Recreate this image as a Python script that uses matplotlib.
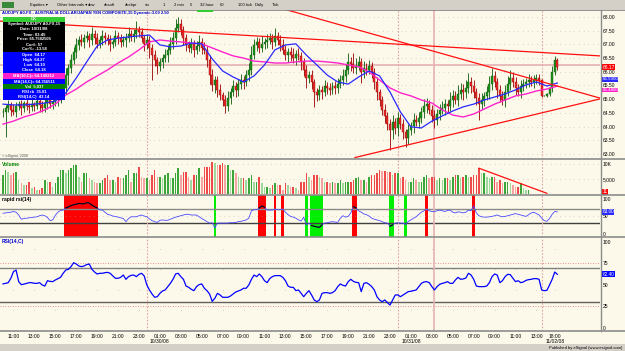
import numpy as np
import matplotlib.pyplot as plt
from matplotlib.patches import Rectangle
from matplotlib.lines import Line2D

plt.rcParams['font.family'] = ['Liberation Sans', 'DejaVu Sans']

# ---- 15 min bars, AUDJPY, 10/29 10:00 -> 11/02 ----
closes = [
    64.53, 64.68, 64.79, 64.61, 64.53, 64.75, 64.82, 64.68, 64.86, 64.75,
    64.72, 64.82, 64.75, 64.93, 64.79, 64.68, 64.86, 64.97, 64.82, 64.90,
    64.97, 65.04, 65.15, 65.41, 65.88, 66.14, 66.43, 66.72, 66.98, 67.16,
    67.09, 67.23, 67.31, 67.16, 67.38, 67.23, 67.02, 67.16, 67.31, 67.23,
    67.16, 67.02, 67.09, 67.31, 67.23, 67.09, 67.16, 67.23, 67.38, 67.31,
    67.38, 67.53, 67.45, 67.23, 67.02, 67.16, 66.87, 66.61, 66.43, 66.21,
    66.36, 66.50, 66.61, 66.80, 67.02, 67.23, 67.60, 67.74, 67.53, 67.23,
    66.98, 66.87, 67.02, 66.80, 66.94, 67.09, 66.87, 66.80, 66.43, 65.88,
    65.52, 65.70, 65.34, 65.15, 64.97, 64.75, 65.04, 65.26, 65.48, 65.34,
    65.56, 65.70, 65.63, 65.88, 66.07, 66.61, 66.98, 67.09, 66.87, 67.02,
    67.09, 67.16, 67.23, 67.09, 67.31, 67.16, 66.98, 66.80, 66.61, 66.72,
    66.61, 66.50, 66.65, 66.58, 66.36, 66.07, 65.77, 65.88, 65.63, 65.26,
    65.15, 65.34, 65.26, 65.48, 65.41, 65.34, 65.48, 65.41, 65.56, 65.70,
    65.85, 66.07, 66.36, 66.29, 66.14, 66.21, 66.36, 65.99, 66.14, 66.07,
    66.21, 65.99, 65.63, 65.26, 64.97, 64.61, 64.39, 64.10, 63.88, 64.17,
    63.95, 64.31, 64.10, 63.80, 63.58, 63.88, 64.02, 64.24, 64.17, 64.31,
    64.53, 64.75, 64.82, 64.61, 64.39, 64.24, 64.46, 64.61, 64.68, 64.82,
    64.75, 64.97, 65.12, 64.97, 65.19, 65.34, 65.26, 65.41, 65.63, 65.48,
    65.26, 65.04, 64.82, 64.97, 65.12, 65.26, 65.56, 65.85, 65.63, 65.34,
    65.12, 64.97, 65.26, 65.56, 65.77, 65.63, 65.41, 65.26, 65.48, 65.56,
    65.63, 65.70, 65.63, 65.70, 65.77, 65.70, 65.12, 65.12, 65.19, 65.41,
    65.99, 66.43, 66.17]

# wick lengths beyond the body, in pips
wick_up = [
    14, 11, 18, 9, 22, 13, 11, 16, 9, 14,
    11, 18, 9, 14, 11, 13, 22, 9, 14, 11,
    16, 11, 14, 18, 25, 14, 22, 18, 27, 16,
    22, 14, 18, 11, 25, 14, 18, 13, 22, 16,
    14, 18, 11, 22, 14, 16, 13, 20, 25, 14,
    18, 32, 14, 16, 11, 22, 14, 13, 18, 11,
    14, 16, 22, 18, 25, 22, 32, 26, 18, 14,
    16, 13, 22, 14, 18, 25, 16, 20, 14, 18,
    22, 16, 14, 20, 13, 18, 25, 16, 22, 14,
    18, 22, 14, 18, 25, 32, 22, 18, 16, 27,
    14, 22, 18, 16, 29, 14, 18, 22, 16, 14,
    18, 25, 14, 22, 16, 13, 18, 14, 20, 11,
    14, 18, 13, 22, 16, 18, 14, 20, 22, 18,
    25, 22, 32, 18, 40, 29, 22, 16, 25, 18,
    22, 16, 14, 18, 13, 16, 22, 14, 18, 25,
    16, 22, 14, 18, 13, 22, 16, 25, 18, 22,
    18, 25, 22, 14, 16, 20, 18, 22, 25, 18,
    16, 29, 22, 18, 32, 25, 22, 29, 33, 18,
    22, 14, 18, 25, 16, 22, 29, 27, 18, 14,
    16, 18, 25, 29, 30, 22, 18, 14, 22, 18,
    16, 22, 14, 18, 16, 14, 3, 2, 3, 5,
    22, 13, 7]
wick_dn = [
    18, 90, 14, 22, 11, 18, 14, 25, 16, 13,
    22, 14, 18, 11, 25, 16, 13, 22, 14, 18,
    14, 22, 18, 16, 22, 36, 18, 14, 22, 18,
    16, 22, 14, 25, 18, 22, 16, 14, 18, 22,
    18, 25, 14, 16, 22, 18, 14, 25, 16, 18,
    22, 14, 18, 16, 25, 18, 36, 90, 22, 29,
    18, 22, 14, 25, 16, 18, 22, 14, 18, 25,
    22, 16, 18, 25, 14, 18, 22, 16, 25, 32,
    22, 29, 25, 18, 22, 25, 18, 22, 16, 25,
    22, 18, 25, 16, 22, 18, 14, 22, 18, 16,
    18, 22, 16, 25, 14, 18, 22, 16, 18, 25,
    22, 18, 25, 16, 29, 22, 36, 18, 25, 55,
    22, 18, 25, 16, 22, 18, 14, 22, 18, 16,
    18, 22, 16, 25, 18, 22, 16, 40, 22, 18,
    16, 22, 25, 29, 22, 18, 25, 22, 73, 32,
    22, 29, 18, 25, 32, 22, 18, 25, 16, 22,
    18, 22, 25, 16, 22, 29, 18, 22, 16, 25,
    22, 18, 25, 16, 22, 18, 29, 22, 18, 25,
    22, 25, 58, 18, 22, 16, 25, 22, 18, 29,
    22, 18, 25, 16, 22, 18, 25, 16, 22, 18,
    16, 18, 14, 22, 16, 18, 3, 2, 4, 6,
    14, 11, 9]

volume = [
    6300, 8000, 7400, 6300, 6900, 7400, 4700, 3600, 3000, 3000,
    4100, 1900, 2400, 1300, 1300, 1900, 4700, 4100, 4100, 2400,
    3600, 5800, 8000, 8000, 6900, 8000, 8600, 9700, 9700, 5800,
    4100, 6900, 6900, 5200, 4700, 4100, 3600, 3600, 4700, 5200,
    6300, 4700, 4700, 4100, 5800, 5200, 5200, 6300, 8000, 4100,
    6900, 6900, 9100, 5800, 5200, 5200, 4700, 6300, 8000, 5800,
    5800, 5200, 6300, 6900, 5200, 5200, 6900, 8600, 6300, 7400,
    7400, 5800, 4700, 6300, 6300, 8600, 5800, 9100, 9100, 9100,
    10800, 10200, 9700, 9700, 10200, 9700, 9700, 8000, 8000, 6900,
    5800, 5200, 5200, 4700, 5200, 6300, 4100, 4100, 5800, 3600,
    2400, 2400, 1900, 3000, 3600, 3000, 3000, 1300, 3600, 3000,
    2400, 2400, 1900, 1300, 4100, 4100, 6900, 5800, 4700, 6300,
    6300, 5800, 5200, 4100, 4100, 3600, 4100, 3600, 3600, 4700,
    3600, 4100, 4100, 4100, 4700, 5200, 5800, 4700, 4700, 4100,
    5800, 6300, 6300, 6900, 8000, 7800, 7800, 7400, 7400, 6300,
    6900, 6900, 5200, 5800, 4700, 4100, 4100, 5200, 4700, 4100,
    4100, 5800, 6300, 5200, 5800, 5800, 4700, 5200, 4700, 5200,
    5200, 4700, 5800, 6300, 6300, 5200, 5800, 6300, 5800, 5800,
    6300, 6300, 8600, 6900, 6900, 5800, 5200, 5800, 5800, 4100,
    4700, 3600, 4100, 4100, 3600, 3000, 2400, 2400, 3600, 1900,
    1300, 1300, 150, 120, 100, 80, 8, 12, 10, 15,
    20, 14, 11]

rapid_rsi = [
    59, 60, 61, 62, 64, 62, 54, 42, 44, 45,
    46, 47, 48, 49, 52, 54, 52, 47, 38, 40,
    53, 62, 67, 68, 74, 77, 81, 83, 85, 87,
    86, 86, 89, 88, 82, 78, 74, 69, 68, 62,
    56, 54, 51, 50, 48, 46, 44, 35, 44, 49,
    49, 49, 52, 54, 51, 49, 43, 38, 35, 33,
    39, 40, 39, 39, 42, 45, 48, 50, 52, 54,
    56, 56, 54, 54, 54, 49, 44, 40, 35, 31,
    32, 17, 31, 31, 31, 31, 31, 32, 32, 33,
    35, 36, 38, 40, 45, 66, 69, 69, 74, 80,
    76, 68, 68, 68, 71, 69, 69, 71, 62, 55,
    50, 48, 45, 40, 37, 48, 26, 31, 24, 22,
    20, 19, 26, 31, 32, 34, 35, 34, 33, 45,
    52, 48, 50, 60, 78, 74, 66, 62, 57, 55,
    51, 45, 42, 40, 38, 35, 32, 31, 22, 26,
    31, 32, 31, 31, 27, 36, 40, 45, 49, 56,
    62, 66, 71, 66, 64, 64, 66, 68, 66, 64,
    67, 68, 62, 60, 63, 62, 60, 62, 68, 66,
    80, 60, 52, 49, 48, 48, 49, 50, 52, 54,
    51, 49, 50, 52, 54, 56, 58, 56, 54, 52,
    50, 55, 60, 62, 58, 54, 45, 38, 36, 44,
    56, 64, 63]

rsi14 = [
    51.3, 51.9, 52.7, 57.8, 65.5, 67.4, 53.9, 50.4, 51.0, 51.9,
    52.7, 52.7, 51.9, 51.9, 52.7, 50.0, 48.8, 55.0, 54.2, 53.9,
    55.8, 57.4, 58.9, 63.6, 67.4, 68.2, 71.3, 75.9, 74.4, 72.1,
    71.3, 72.1, 73.7, 74.4, 68.2, 65.1, 62.8, 63.6, 63.6, 64.3,
    64.7, 63.6, 60.5, 57.8, 57.8, 58.9, 61.6, 56.6, 59.7, 61.2,
    61.6, 59.7, 62.4, 63.6, 60.5, 50.0, 44.2, 39.5, 35.7, 36.4,
    40.3, 43.0, 44.2, 48.1, 51.9, 56.6, 62.8, 63.6, 59.7, 56.6,
    48.8, 47.3, 45.0, 43.4, 48.1, 50.4, 51.2, 46.2, 43.4, 39.5,
    31.0, 34.5, 40.3, 38.4, 35.7, 35.7, 35.7, 37.2, 39.5, 41.9,
    43.0, 44.2, 46.2, 46.2, 50.0, 56.6, 61.6, 59.7, 62.8, 59.7,
    55.0, 52.7, 57.4, 59.7, 60.9, 60.9, 60.9, 58.9, 55.0, 48.8,
    47.3, 47.3, 43.4, 44.2, 40.3, 36.4, 40.3, 43.4, 38.4, 32.6,
    30.6, 32.6, 40.3, 41.1, 41.1, 40.3, 41.1, 43.4, 48.1, 51.2,
    49.6, 48.8, 53.9, 56.6, 54.2, 53.1, 52.7, 42.3, 51.9, 52.7,
    50.8, 48.1, 44.2, 36.4, 32.6, 30.6, 32.6, 29.5, 26.7, 32.6,
    38.4, 38.4, 36.4, 38.4, 40.3, 42.3, 42.7, 43.4, 44.2, 48.1,
    51.9, 53.5, 53.9, 52.7, 48.1, 44.2, 48.1, 50.8, 51.9, 52.7,
    53.9, 51.9, 51.9, 55.8, 58.9, 56.6, 57.0, 58.1, 63.6, 61.6,
    56.6, 48.8, 48.1, 48.1, 48.1, 48.8, 52.7, 59.7, 62.8, 61.6,
    52.7, 55.0, 59.7, 62.4, 62.0, 57.8, 53.9, 55.0, 52.7, 53.5,
    55.4, 56.2, 56.6, 57.4, 57.4, 56.6, 44.2, 43.4, 43.8, 50.0,
    56.6, 65.1, 62.4]

# moving averages read every 4th bar
ma_slow = [
    64.09, 64.20, 64.35, 64.46, 64.61, 64.82, 65.15, 65.37, 65.63, 65.85,
    66.07, 66.32, 66.54, 66.80, 67.09, 67.16, 67.12, 67.09, 67.05, 67.02,
    66.87, 66.72, 66.58, 66.50, 66.39, 66.36, 66.32, 66.32, 66.36, 66.39,
    66.39, 66.36, 66.32, 66.25, 66.18, 65.99, 65.70, 65.41, 65.23, 65.12,
    64.97, 64.86, 64.61, 64.42, 64.35, 64.46, 64.64, 64.82, 64.97, 65.12,
    65.19, 65.30, 65.37, 65.48]
ma_fast = [
    64.82, 64.79, 64.79, 64.82, 64.86, 64.93, 65.23, 65.77, 66.36, 66.94,
    67.16, 67.23, 67.27, 67.31, 67.34, 66.98, 66.91, 66.94, 67.05, 67.02,
    66.47, 66.03, 65.81, 65.63, 65.85, 66.25, 66.80, 66.98, 67.02, 66.61,
    66.25, 65.88, 65.63, 65.55, 65.81, 66.03, 65.85, 65.26, 64.53, 63.99,
    63.95, 64.20, 64.39, 64.57, 64.72, 64.82, 64.97, 65.08, 65.19, 65.34,
    65.52, 65.63, 65.48, 65.59]

tick_bars = [4, 12, 20, 28, 36, 44, 52, 60, 68, 76, 84, 92, 100, 108,
             116, 124, 132, 140, 148, 156, 164, 172, 180, 188, 196, 204, 211]
tick_text = ['11:00', '13:00', '15:00', '17:00', '19:00', '21:00', '23:00',
             '01:00', '03:00', '05:00', '07:00', '09:00', '11:00', '13:00',
             '15:00', '17:00', '19:00', '21:00', '23:00', '01:00', '03:00',
             '05:00', '07:00', '09:00', '11:00', '13:00', '18:00']
date_bars = [60, 156, 211]
date_text = ['10/30/08', '10/31/08', '11/02/08']

trend_x = [[-1.15, 228.3], [105.9, 228.3], [134.6, 228.3]]
trend_y = [[67.85, 66.58], [68.33, 65.04], [62.87, 65.01]]
vol_trend_x = [182, 208]
vol_trend_y = [8600, 230]

day_breaks = [55, 151, 206]
cursor_bar = 165
cursor_price = 66.25
last_price = 66.17

# ---- figure ----
W, H = 625, 351
BG = '#fdf9ea'
GRAY = '#d4d0c8'
fig = plt.figure(figsize=(W / 100, H / 100), dpi=100)
fig.patch.set_facecolor(BG)


def px_axes(y0, y1):
    ax = fig.add_axes([0, 1 - y1 / H, 600 / W, (y1 - y0) / H])
    ax.set_facecolor(BG)
    for s in ax.spines.values():
        s.set_visible(False)
    ax.set_xlim(-1.15, 228.3)
    ax.set_xticks([])
    ax.yaxis.tick_right()
    ax.tick_params(axis='y', length=0, pad=2.2, labelsize=3.6)
    return ax


def frect(x0, y0, x1, y1, color, z=6):
    fig.add_artist(Rectangle((x0 / W, 1 - y1 / H), (x1 - x0) / W, (y1 - y0) / H,
                             transform=fig.transFigure, facecolor=color,
                             edgecolor='none', zorder=z))


def fline(x0, y0, x1, y1, color, lw=1.0, z=6):
    fig.add_artist(Line2D([x0 / W, x1 / W], [1 - y0 / H, 1 - y1 / H],
                          transform=fig.transFigure, color=color, lw=lw, zorder=z))


def ftext(x, y, s, z=7, **kw):
    fig.text(x / W, 1 - y / H, s, zorder=z, **kw)


n = len(closes)
idx = np.arange(n)
c = np.array(closes)
o = np.r_[c[0], c[:-1]]
hi = np.maximum(o, c) + np.array(wick_up) / 100
lo = np.minimum(o, c) - np.array(wick_dn) / 100
up = c >= o
vol = np.array(volume)

ax_p = px_axes(10, 159)
ax_v = px_axes(159, 195)
ax_r = px_axes(195, 237)
ax_s = px_axes(237, 331)

# price panel
ax_p.set_ylim(62.817, 68.255)
for lv in np.arange(63, 68.01, 0.5):
    ax_p.axhline(lv, color='#a9a9a9', lw=0.6, ls=(0, (0.6, 5)), zorder=1)
ax_p.set_yticks(np.arange(63, 68.01, 0.5))
ax_p.set_yticklabels([f'{v:.2f}' for v in np.arange(63, 68.01, 0.5)])
ax_p.axhline(cursor_price, color='#e6b2b2', lw=1.2, zorder=1)

body_col = np.where(up, '#1c931c', '#ec2a2a')
edge_col = np.where(up, '#0b5a0b', '#960000')
ax_p.vlines(idx, lo, hi, colors=edge_col, lw=0.6, zorder=3)
ax_p.bar(idx, np.maximum(np.abs(c - o), 0.012), bottom=np.minimum(o, c),
         width=0.75, color=body_col, edgecolor=edge_col, linewidth=0.3, zorder=4)

ma_bars = np.arange(0, n, 4)
ax_p.plot(ma_bars, ma_slow, color='#ff22cc', lw=1.0, zorder=5)
ax_p.plot(ma_bars, ma_fast, color='#2828ff', lw=0.9, zorder=5)
for tx, ty in zip(trend_x, trend_y):
    ax_p.plot(tx, ty, color='#ff1010', lw=0.9, zorder=6)

ytr = ax_p.get_yaxis_transform()
ax_p.text(1.004, last_price, f'{last_price:.2f}', transform=ytr, fontsize=3.6,
          color='white', va='center', clip_on=False,
          bbox=dict(fc='#ff0000', ec='none', pad=0.4))
ax_p.text(1.004, ma_fast[-1] + 0.13, f'{ma_fast[-1]:.4f}', transform=ytr, fontsize=3.2,
          color='white', va='center', clip_on=False,
          bbox=dict(fc='#2828ff', ec='none', pad=0.2))
ax_p.text(1.004, ma_slow[-1] - 0.14, f'{ma_slow[-1]:.4f}', transform=ytr, fontsize=3.2,
          color='white', va='center', clip_on=False,
          bbox=dict(fc='#ff22cc', ec='none', pad=0.2))

# volume panel
ax_v.set_ylim(-333, 11667)
for lv in (5000, 10000):
    ax_v.axhline(lv, color='#a9a9a9', lw=0.6, ls=(0, (0.6, 5)), zorder=1)
prev = np.r_[vol[0], vol[:-1]]
vcol = np.where(up, np.where(vol >= prev, '#3aa63a', '#9fd89f'),
                np.where(vol >= prev, '#ef4a4a', '#f6a3a3'))
ax_v.bar(idx, vol, width=0.6, color=vcol, zorder=3)
ax_v.plot(vol_trend_x, vol_trend_y, color='#ff1010', lw=0.9, zorder=4)
ax_v.set_yticks([5000, 10000])
ax_v.set_yticklabels(['5,000', '10K'])
ax_v.text(1.004, 700, f'{volume[-1]}', transform=ax_v.get_yaxis_transform(),
          fontsize=3.6, color='white', va='center', clip_on=False,
          bbox=dict(fc='#ff0000', ec='none', pad=0.4))

# rapid rsi panel
rr = np.array(rapid_rsi, dtype=float)
ax_r.set_ylim(-8.6, 111)
hot = rr >= 70
cold = rr <= 30
for i in range(n):
    if hot[i]:
        ax_r.axvspan(i - 0.5, i + 0.5, color='#ff0000', lw=0, zorder=1)
    elif cold[i]:
        ax_r.axvspan(i - 0.5, i + 0.5, color='#00ee00', lw=0, zorder=1)
ax_r.axhline(50, color='#a9a9a9', lw=0.6, ls=(0, (0.6, 5)), zorder=2)
ax_r.axhline(70, color='#8a8a8a', lw=1.0, zorder=2)
ax_r.axhline(30, color='#404040', lw=1.0, zorder=2)
ax_r.plot(idx, rr, color='#4a4aff', lw=0.6, zorder=3)
ax_r.plot(idx, np.where(hot | cold, rr, np.nan), color='black', lw=0.8, zorder=4)
ax_r.set_yticks([0, 50, 100])
ax_r.text(1.004, rr[-1], f'{rr[-1]:.2f}', transform=ax_r.get_yaxis_transform(),
          fontsize=3.4, color='white', va='center', clip_on=False,
          bbox=dict(fc='#2828ff', ec='none', pad=0.3))

# rsi panel
ax_s.set_ylim(-3.5, 105.8)
ax_s.vlines(tick_bars, -3.5, 105.8, color='#a0a0a0', lw=0.6, ls=(0, (0.6, 24)), zorder=1)
for lv in (75, 25):
    ax_s.axhline(lv, color='#e07070', lw=0.6, ls=(0, (1, 2)), zorder=1)
ax_s.axhline(70, color='#808080', lw=1.0, zorder=2)
ax_s.axhline(30, color='#606060', lw=1.0, zorder=2)
ax_s.plot(idx, rsi14, color='#0000ff', lw=0.9, zorder=3)
ax_s.set_yticks([0, 25, 50, 75, 100])
ax_s.text(1.004, rsi14[-1], f'{rsi14[-1]:.2f}', transform=ax_s.get_yaxis_transform(),
          fontsize=3.4, color='white', va='center', clip_on=False,
          bbox=dict(fc='#0000ff', ec='none', pad=0.3))
ax_s.set_xticks(tick_bars)
ax_s.set_xticklabels(tick_text)
ax_s.tick_params(axis='x', length=0, pad=2, labelsize=3.6)
xtr = ax_s.get_xaxis_transform()
for b, t in zip(date_bars, date_text):
    ax_s.text(b, -0.11, t, transform=xtr, fontsize=3.6, ha='center', va='center',
              clip_on=False)

# day breaks and cursor across all panels
for ax in (ax_p, ax_v, ax_r, ax_s):
    for b in day_breaks:
        ax.axvline(b, color='#e0a4a4', lw=0.8, ls=(0, (1.5, 1.5)), zorder=2)
    ax.axvline(cursor_bar, color='#e6b2b2', lw=1.2, zorder=2)

# panel frame lines
for y in (159, 195, 237, 331):
    fline(0, y, 625, y, '#8c8c8c', lw=1.2)
fline(600.5, 10, 600.5, 331, '#8c8c8c', lw=1.0)

# toolbar and status bar
frect(0, 0, 625, 10, GRAY)
fline(0, 10, 625, 10, '#808080', lw=0.6)
frect(0, 344, 625, 351, GRAY)
frect(2, 2, 14, 8, '#3a8a3a', z=7)
toolbar = [(30, 'Equities ▾'), (57, 'Other Intervals ▾'), (88, 'dow'), (104, 'absoft'),
           (125, 'abxbpr'), (145, 'vix'), (163, '1'), (174, '2 min'), (190, '5'),
           (200, '32 hour'), (220, '60'), (238, '100 tick'), (255, 'Daily'), (272, 'Tick')]
for x, s in toolbar:
    ftext(x, 5.2, s, fontsize=3.0, va='center', color='black')
ftext(622, 347.5, 'Published by eSignal (www.esignal.com)', fontsize=3.0,
      ha='right', va='center', color='black')

# titles inside panels
ftext(2, 13, 'AUDJPY A0-FX - AUSTRALIA DOLLAR/JAPAN YEN COMPOSITE,15 Dynamic:3.00 2.50',
      fontsize=3.0, fontweight='bold', color='#0000cc', va='center')
frect(197, 10, 213, 12, '#33cc33', z=7)
ftext(2, 155.5, '© eSignal, 2008', fontsize=2.6, color='#505050', va='center')
ftext(2, 164, 'Volume', fontsize=3.6, fontweight='bold', color='#008000', va='center')
ftext(2, 200, 'rapid rsi(14)', fontsize=3.6, fontweight='bold', color='black', va='center')
ftext(2, 242, 'RSI(14,C)', fontsize=3.6, fontweight='bold', color='#0000cc', va='center')

# cursor info window
info = [
    (17, 22, '#33cc33', 'white', ['OK']),
    (22, 52, 'black', 'white', ['Symbol: AUDJPY A0-FX,15', 'Date: 10/31/08', 'Time: 03:45',
                                'Price: 65.7582505', 'Cur#: 57', 'Cur%: -13.58']),
    (52, 73, '#0000ff', 'white', ['Open  64.17', 'High  64.27', 'Low  64.10', 'Close  64.18']),
    (73, 79, '#ff22cc', 'white', ['MA(10,C)= 64.149212']),
    (79, 84, '#0000ff', 'white', ['MA(14,C)= 64.356511']),
    (84, 89, '#008000', 'white', ['Vol  5,037']),
    (89, 100, '#0000ff', 'white', ['RSI rb  35.81', 'RSI(14,C)  43.14']),
]
for y0, y1, bg, fg, lines in info:
    frect(3, y0, 65, y1, bg, z=8)
    step = (y1 - y0) / len(lines)
    for k, s in enumerate(lines):
        ftext(34, y0 + step * (k + 0.5), s, z=9, fontsize=3.0, fontweight='bold',
              color=fg, ha='center', va='center')

fig.savefig('out.png', dpi=100, facecolor=BG)
